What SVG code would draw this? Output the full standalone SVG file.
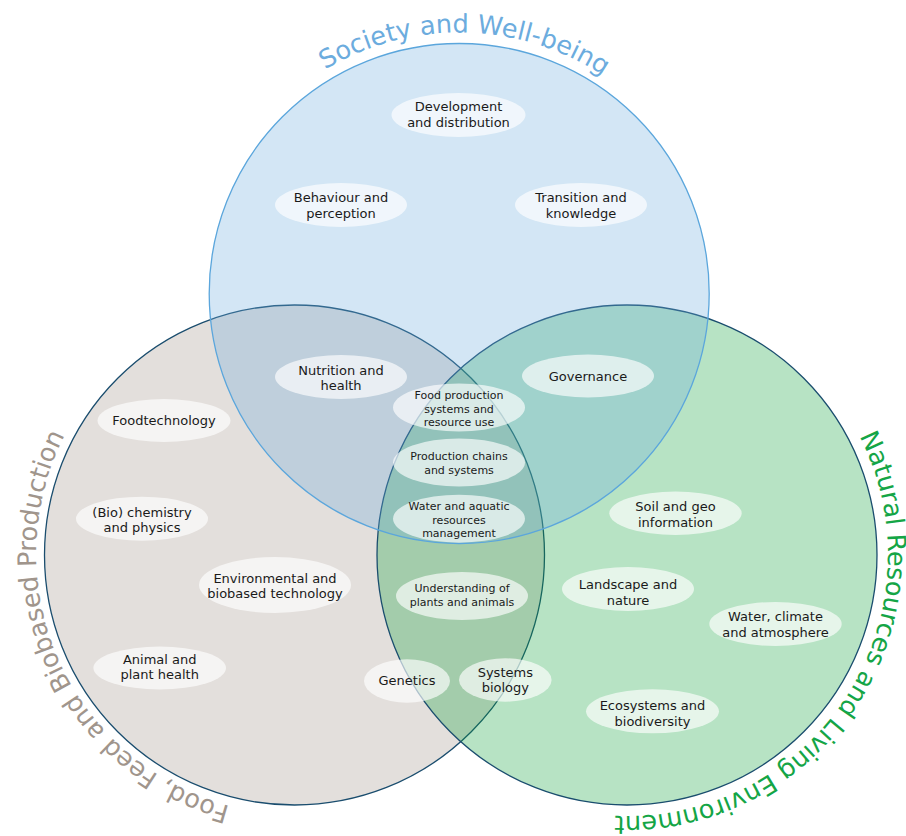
<svg xmlns="http://www.w3.org/2000/svg" xmlns:xlink="http://www.w3.org/1999/xlink" width="906" height="836" viewBox="0 0 906 836">
  <style>
    .bg { fill: #ffffff; }
    .circ { stroke-width: 1.3; fill-opacity: 0.3; }
    .c-left { fill: #a2948a; stroke: #1a4d6e; }
    .c-right { fill: #0fa23a; stroke: #1a4d6e; }
    .c-top { fill: #6cacde; stroke: #5ba6dc; }
    .pill { fill: #ffffff; fill-opacity: 0.65; stroke: none; }
    .lbl { font-family: "DejaVu Sans", Verdana, sans-serif; font-size: 13px; fill: #1a1a1a; text-anchor: middle; }
    .sm { font-size: 11px; }
    .arc { font-family: "DejaVu Sans", Verdana, sans-serif; font-size: 25.6px; }
    .t-top { fill: #6cacde; }
    .t-left { fill: #a0958c; }
    .t-right { fill: #14a546; }
  </style>
  <defs>
    <path id="arcTop" d="M 198.2,293.5 A 261 261 0 0 1 720.2,293.5"/>
    <path id="arcLeft" d="M 400.7,793.4 A 261 261 0 0 1 188.3,316.6"/>
    <path id="arcRight" d="M 768.4,335.6 A 261 261 0 0 1 485.6,774.4"/>
  </defs>
  <rect class="bg" x="0" y="0" width="906" height="836"/>

  <g id="circle-food">
    <circle class="circ c-left" cx="294.5" cy="555" r="250"/>
  </g>
  <g id="circle-natural">
    <circle class="circ c-right" cx="627" cy="555" r="250"/>
  </g>
  <g id="circle-society">
    <circle class="circ c-top" cx="459.2" cy="293.5" r="250"/>
  </g>

  <g id="title-society">
    <text class="arc t-top"><textPath xlink:href="#arcTop" href="#arcTop" startOffset="50.7%" text-anchor="middle">Society and Well-being</textPath></text>
  </g>
  <g id="title-food">
    <text class="arc t-left"><textPath xlink:href="#arcLeft" href="#arcLeft" startOffset="50%" text-anchor="middle">Food, Feed and Biobased Production</textPath></text>
  </g>
  <g id="title-natural">
    <text class="arc t-right"><textPath xlink:href="#arcRight" href="#arcRight" startOffset="50%" text-anchor="middle">Natural Resources and Living Environment</textPath></text>
  </g>

  <g id="connectors"></g>

  <g id="node-development">
    <ellipse class="pill" cx="458.5" cy="115" rx="67" ry="22"/>
    <text class="lbl"><tspan x="458.5" y="111.3">Development</tspan><tspan x="458.5" y="127.3">and distribution</tspan></text>
  </g>
  <g id="node-behaviour">
    <ellipse class="pill" cx="341" cy="205" rx="66" ry="22"/>
    <text class="lbl"><tspan x="341" y="202.4">Behaviour and</tspan><tspan x="341" y="217.7">perception</tspan></text>
  </g>
  <g id="node-transition">
    <ellipse class="pill" cx="581" cy="205" rx="66" ry="22"/>
    <text class="lbl"><tspan x="581" y="202.4">Transition and</tspan><tspan x="581" y="217.7">knowledge</tspan></text>
  </g>
  <g id="node-nutrition">
    <ellipse class="pill" cx="341" cy="377" rx="66" ry="22"/>
    <text class="lbl"><tspan x="341" y="374.8">Nutrition and</tspan><tspan x="341" y="390.1">health</tspan></text>
  </g>
  <g id="node-governance">
    <ellipse class="pill" cx="588" cy="376" rx="66" ry="21.5"/>
    <text class="lbl"><tspan x="588" y="380.6">Governance</tspan></text>
  </g>
  <g id="node-foodproduction">
    <ellipse class="pill" cx="459" cy="407.5" rx="66" ry="24"/>
    <text class="lbl sm"><tspan x="459" y="399">Food production</tspan><tspan x="459" y="412.5">systems and</tspan><tspan x="459" y="426">resource use</tspan></text>
  </g>
  <g id="node-productionchains">
    <ellipse class="pill" cx="459" cy="462.5" rx="66" ry="24"/>
    <text class="lbl sm"><tspan x="459" y="460">Production chains</tspan><tspan x="459" y="474">and systems</tspan></text>
  </g>
  <g id="node-wateraquatic">
    <ellipse class="pill" cx="459" cy="518.7" rx="66" ry="24"/>
    <text class="lbl sm"><tspan x="459" y="510">Water and aquatic</tspan><tspan x="459" y="523.5">resources</tspan><tspan x="459" y="537">management</tspan></text>
  </g>
  <g id="node-understanding">
    <ellipse class="pill" cx="462" cy="596" rx="66" ry="24"/>
    <text class="lbl sm"><tspan x="462" y="592.3">Understanding of</tspan><tspan x="462" y="605.7">plants and animals</tspan></text>
  </g>
  <g id="node-foodtechnology">
    <ellipse class="pill" cx="164" cy="420.5" rx="66.5" ry="21.5"/>
    <text class="lbl"><tspan x="164" y="425.3">Foodtechnology</tspan></text>
  </g>
  <g id="node-biochemistry">
    <ellipse class="pill" cx="142" cy="518.7" rx="66" ry="22"/>
    <text class="lbl"><tspan x="142" y="517">(Bio) chemistry</tspan><tspan x="142" y="532.3">and physics</tspan></text>
  </g>
  <g id="node-environmental">
    <ellipse class="pill" cx="275" cy="585" rx="76" ry="28"/>
    <text class="lbl"><tspan x="275" y="582.8">Environmental and</tspan><tspan x="275" y="598.1">biobased technology</tspan></text>
  </g>
  <g id="node-animalplant">
    <ellipse class="pill" cx="159.7" cy="668" rx="66.3" ry="21.5"/>
    <text class="lbl"><tspan x="159.7" y="663.6">Animal and</tspan><tspan x="159.7" y="678.9">plant health</tspan></text>
  </g>
  <g id="node-genetics">
    <ellipse class="pill" cx="407" cy="681" rx="43" ry="21.7"/>
    <text class="lbl"><tspan x="407" y="685.3">Genetics</tspan></text>
  </g>
  <g id="node-systemsbiology">
    <ellipse class="pill" cx="505.3" cy="680" rx="46.3" ry="21.7"/>
    <text class="lbl"><tspan x="505.3" y="677">Systems</tspan><tspan x="505.3" y="692.3">biology</tspan></text>
  </g>
  <g id="node-soil">
    <ellipse class="pill" cx="675.5" cy="513.3" rx="66.2" ry="21.7"/>
    <text class="lbl"><tspan x="675.5" y="511.3">Soil and geo</tspan><tspan x="675.5" y="527">information</tspan></text>
  </g>
  <g id="node-landscape">
    <ellipse class="pill" cx="628" cy="589" rx="66" ry="22"/>
    <text class="lbl"><tspan x="628" y="589">Landscape and</tspan><tspan x="628" y="604.6">nature</tspan></text>
  </g>
  <g id="node-waterclimate">
    <ellipse class="pill" cx="775.5" cy="624" rx="66.2" ry="22"/>
    <text class="lbl"><tspan x="775.5" y="621.3">Water, climate</tspan><tspan x="775.5" y="637">and atmosphere</tspan></text>
  </g>
  <g id="node-ecosystems">
    <ellipse class="pill" cx="652.5" cy="711.3" rx="66.5" ry="22"/>
    <text class="lbl"><tspan x="652.5" y="709.6">Ecosystems and</tspan><tspan x="652.5" y="726.3">biodiversity</tspan></text>
  </g>
</svg>
